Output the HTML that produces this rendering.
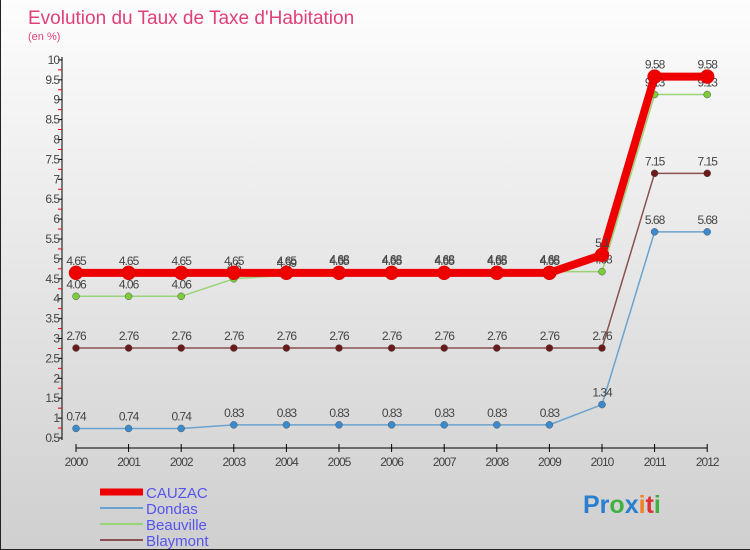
<!DOCTYPE html>
<html><head><meta charset="utf-8"><style>
body{margin:0;}
#c{width:750px;height:550px;position:relative;overflow:hidden;background:linear-gradient(#fdfdfd,#cfcfcf);box-sizing:border-box;border:1px solid #222;border-top:none;border-right:none;font-family:"Liberation Sans",sans-serif;}
</style></head><body>
<div id="c">
<svg id="s" width="750" height="550" style="position:absolute;left:0;top:0"></svg>
</div>
<script>
const years=[2000,2001,2002,2003,2004,2005,2006,2007,2008,2009,2010,2011,2012];
const yTicks=[0.5,1,1.5,2,2.5,3,3.5,4,4.5,5,5.5,6,6.5,7,7.5,8,8.5,9,9.5,10];
const yTickLabels=["0.5","1","1.5","2","2.5","3","3.5","4","4.5","5","5.5","6","6.5","7","7.5","8","8.5","9","9.5","10"];
const seriesNames=["Blaymont","Beauville","Dondas","CAUZAC"];
const blaymont=[2.76,2.76,2.76,2.76,2.76,2.76,2.76,2.76,2.76,2.76,2.76,7.15,7.15];
const beauville=[4.06,4.06,4.06,4.5,4.59,4.68,4.68,4.68,4.68,4.68,4.68,9.13,9.13];
const dondas=[0.74,0.74,0.74,0.83,0.83,0.83,0.83,0.83,0.83,0.83,1.34,5.68,5.68];
const cauzac=[4.65,4.65,4.65,4.65,4.65,4.65,4.65,4.65,4.65,4.65,5.1,9.58,9.58];
const seriesLabels=[
["2.76","2.76","2.76","2.76","2.76","2.76","2.76","2.76","2.76","2.76","2.76","7.15","7.15"],
["4.06","4.06","4.06","4.5","4.59","4.68","4.68","4.68","4.68","4.68","4.68","9.13","9.13"],
["0.74","0.74","0.74","0.83","0.83","0.83","0.83","0.83","0.83","0.83","1.34","5.68","5.68"],
["4.65","4.65","4.65","4.65","4.65","4.65","4.65","4.65","4.65","4.65","5.1","9.58","9.58"]];
const NS="http://www.w3.org/2000/svg";
const s=document.getElementById('s');
const X=i=>75+i*52.6;
const Y=v=>438-(v-0.5)*39.8;
function el(t,a,p){const e=document.createElementNS(NS,t);for(const k in a)e.setAttribute(k,a[k]);(p||s).appendChild(e);return e;}
let t=el('text',{x:27,y:24,'font-size':19,fill:'#e0407a'});t.textContent="Evolution du Taux de Taxe d'Habitation";

t=el('text',{x:27,y:40,'font-size':11,fill:'#e0407a'});t.textContent="(en %)";

// axes
let a=el('line',{x1:61,y1:57,x2:61,y2:440,stroke:'#000'});
for(let v=0.5;v<=10.001;v+=0.25){el('line',{x1:57,x2:61,y1:Y(v),y2:Y(v),stroke:Math.abs(v*2-Math.round(v*2))<0.01?'#000':'#e00'});}
yTicks.forEach((v,i)=>{const tt=el('text',{x:58,y:Y(v)+4,'text-anchor':'end','font-size':12,fill:'#444','letter-spacing':'-1'});tt.textContent=yTickLabels[i];
});
a=el('line',{x1:75,y1:448,x2:706,y2:448,stroke:'#000'});
years.forEach((y,i)=>{el('line',{x1:X(i),x2:X(i),y1:444,y2:452,stroke:'#000'});
const tt=el('text',{x:X(i),y:466,'text-anchor':'middle','font-size':12,fill:'#444','letter-spacing':'-1'});tt.textContent=y;
});
const data=[blaymont,beauville,dondas,cauzac];
const cols=['#8b5050','#99d477','#6aa3cf','#ee0000'];
const dots=['#6b1a1a','#7ccc3a','#3a8ad0','#ee0000'];
const widths=[1.5,1.5,1.5,8];
const rads=[3.5,3.5,3.5,7];
data.forEach((d,k)=>{
 const g=el('g',{});
 el('polyline',{points:d.map((v,i)=>X(i)+','+Y(v)).join(' '),fill:'none',stroke:cols[k],'stroke-width':widths[k],'stroke-linejoin':'round'},g);
 d.forEach((v,i)=>{const c=el('circle',{cx:X(i),cy:Y(v),r:rads[k],fill:dots[k],stroke:k==3?'#c00':'#555','stroke-width':0.5},g);
 
 const tt=el('text',{x:X(i),y:Y(v)-8,'text-anchor':'middle','font-size':12,fill:'#444','letter-spacing':'-1'},g);tt.textContent=seriesLabels[k][i];});
});
// legend
const lg=[["CAUZAC",'#ee0000',7],["Dondas",'#6aa3cf',2],["Beauville",'#99d477',2],["Blaymont",'#8b5050',2]];
lg.forEach((l,i)=>{const g=el('g',{});
 el('line',{x1:99,x2:142,y1:492+i*16,y2:492+i*16,stroke:l[1],'stroke-width':l[2]},g);
 const tt=el('text',{x:145,y:498+i*16,'font-size':15,fill:'#5555ee'},g);tt.textContent=l[0];});
const lo=el('text',{x:582,y:513,'font-size':25,'font-weight':'bold'});
[["Pr",'#2a7fd0'],["o",'#40b040'],["x",'#2a7fd0'],["i",'#f08020'],["t",'#e03030'],["i",'#40b040']].forEach(p=>{const ts=el('tspan',{fill:p[1]},lo);ts.textContent=p[0];});
</script>
</body></html>
